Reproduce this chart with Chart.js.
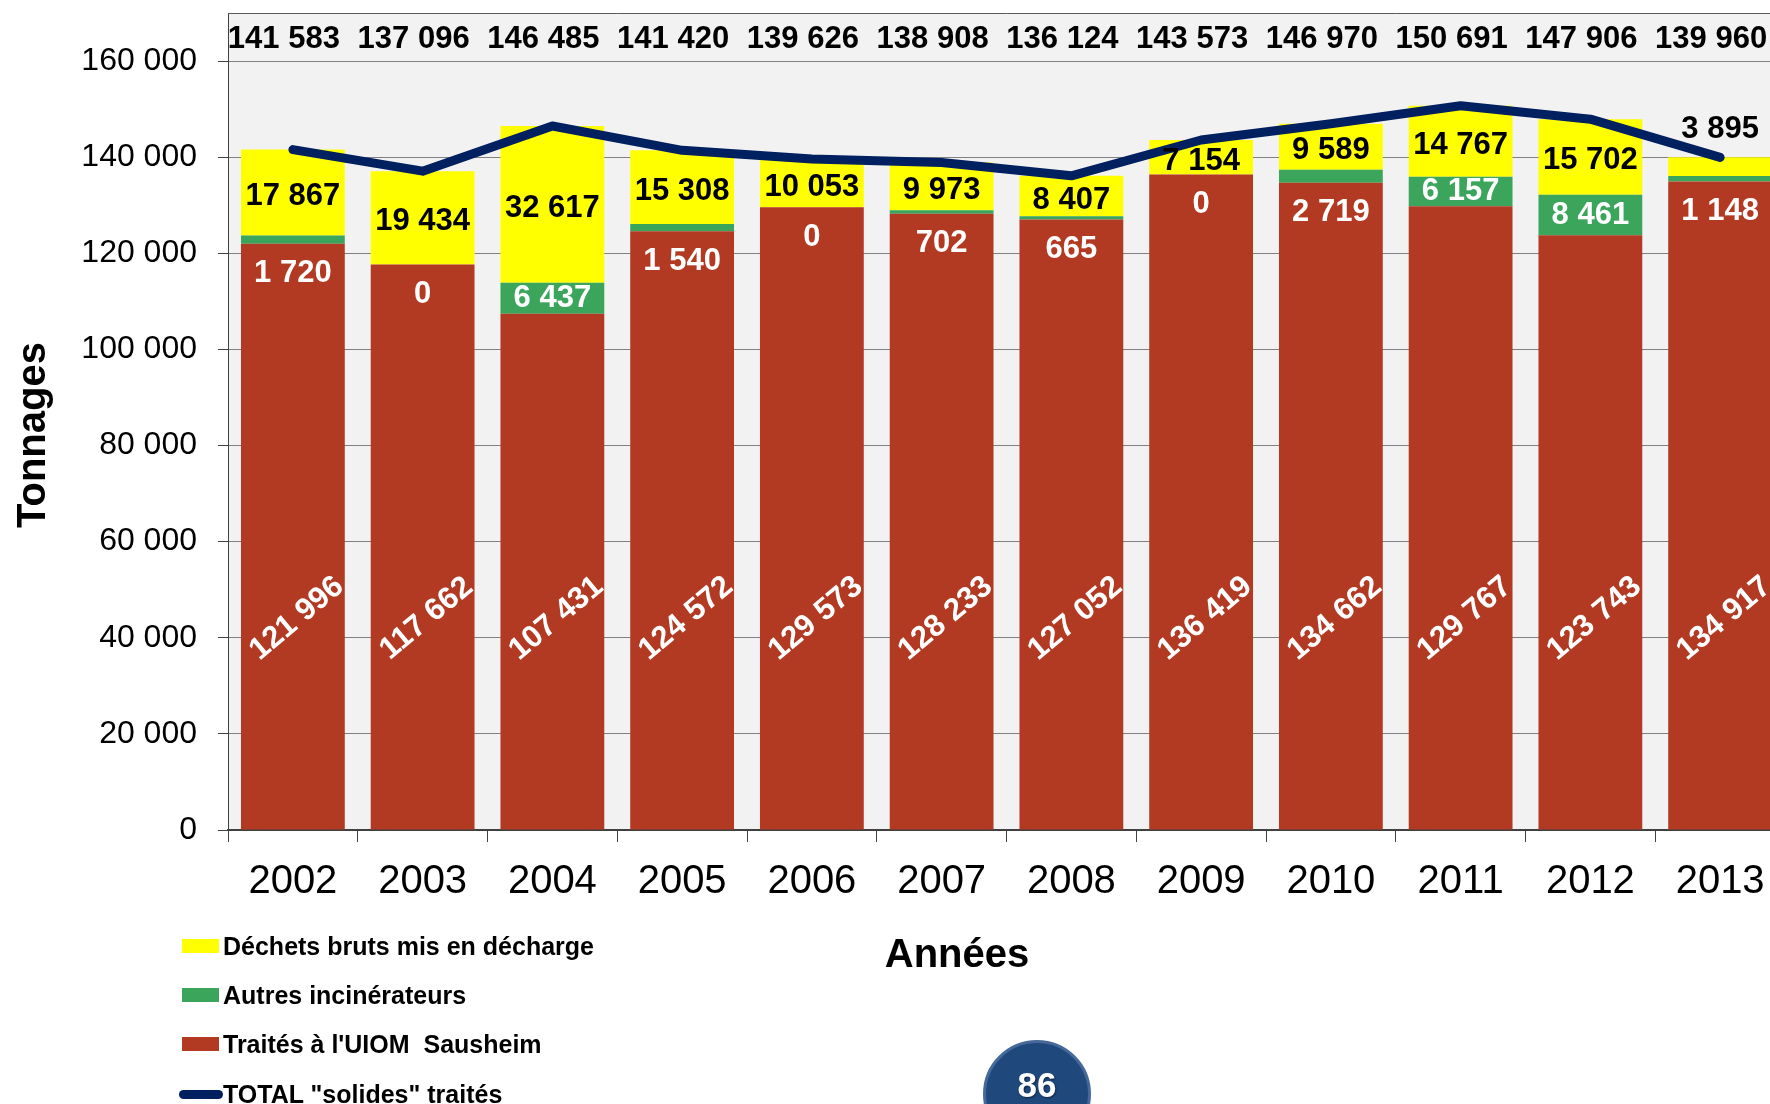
<!DOCTYPE html>
<html lang="fr">
<head>
<meta charset="utf-8">
<title>Tonnages traités 2002-2013</title>
<script src="https://cdn.jsdelivr.net/npm/chart.js@4.4.1/dist/chart.umd.min.js"></script>
<style>
  html, body { margin: 0; padding: 0; width: 1770px; height: 1104px; overflow: hidden; background: #fff; }
  body { position: relative; font-family: "Liberation Sans", Arial, sans-serif; }
  #chart { position: absolute; left: 0; top: 0; }
  #legend { position: absolute; left: 0; top: 931px; width: 700px; }
  #legend .item { position: absolute; left: 0; height: 30px; line-height: 30px; padding-left: 223px;
    font-weight: bold; font-size: 25px; color: #000; white-space: pre; }
  #legend .swatch { position: absolute; left: 182px; top: 8px; width: 37px; height: 14px; }
  #legend .swatch.line { left: 179px; top: 11px; width: 44px; height: 9px; border-radius: 5px; }
  #badge { position: absolute; left: 983px; top: 1040px; width: 108px; height: 108px; box-sizing: border-box;
    border-radius: 50%; background: #1f497d; border: 3px solid #46699a; }
  #badge span { position: absolute; left: 0; right: 0; top: 22px; line-height: 40px; text-align: center;
    font-weight: bold; font-size: 35px; color: #fff; text-shadow: 1px 1px 2px rgba(0,0,0,0.5); }
</style>
</head>
<body>
<canvas id="chart" width="1785" height="1104"></canvas>
<div id="legend"></div>
<div id="badge"><span>86</span></div>
<script>
// tonnages par année
const years = ['2002', '2003', '2004', '2005', '2006', '2007', '2008', '2009', '2010', '2011', '2012', '2013'];
const uiomSausheim = [121996, 117662, 107431, 124572, 129573, 128233, 127052, 136419, 134662, 129767, 123743, 134917];
const autresIncinerateurs = [1720, 0, 6437, 1540, 0, 702, 665, 0, 2719, 6157, 8461, 1148];
const dechetsBruts = [17867, 19434, 32617, 15308, 10053, 9973, 8407, 7154, 9589, 14767, 15702, 3895];
const totalSolides = [141583, 137096, 146485, 141420, 139626, 138908, 136124, 143573, 146970, 150691, 147906, 139960];
const yTickValues = [0, 20000, 40000, 60000, 80000, 100000, 120000, 140000, 160000];

const RED = '#b23a23';
const GREEN = '#3ba55c';
const YELLOW = '#ffff00';
const NAVY = '#002060';
const FONT = '"Liberation Sans", Arial, sans-serif';

Chart.defaults.font.family = FONT;

const fmt = v => String(v).replace(/\B(?=(\d{3})+(?!\d))/g, ' ');

// grey plot background + top frame line
const plotFrame = {
  id: 'plotFrame',
  beforeDraw(chart) {
    const { ctx, chartArea: a } = chart;
    ctx.save();
    ctx.fillStyle = '#f2f2f2';
    ctx.fillRect(a.left, a.top, a.right - a.left, a.bottom - a.top);
    ctx.restore();
  },
  beforeDatasetsDraw(chart) {
    const { ctx, chartArea: a } = chart;
    ctx.save();
    ctx.strokeStyle = '#595959';
    ctx.lineWidth = 1;
    ctx.beginPath();
    ctx.moveTo(a.left, a.top + 0.5);
    ctx.lineTo(a.right, a.top + 0.5);
    ctx.stroke();
    ctx.restore();
  }
};

// value labels on the bars, totals along the top, axis titles
const valueLabels = {
  id: 'valueLabels',
  afterDatasetsDraw(chart) {
    const { ctx, chartArea: a, scales: { y } } = chart;
    const red = chart.getDatasetMeta(0).data;
    const green = chart.getDatasetMeta(1).data;
    const yellow = chart.getDatasetMeta(2).data;
    ctx.save();
    ctx.font = 'bold 31px ' + FONT;
    ctx.textAlign = 'center';
    ctx.textBaseline = 'middle';

    years.forEach((yr, i) => {
      const cx = red[i].x;

      // totals
      ctx.fillStyle = '#000';
      ctx.fillText(fmt(totalSolides[i]), cx - 9, a.top + 26);

      // déchets bruts
      const yb = yellow[i];
      const yh = yb.base - yb.y;
      const yy = yh > 25 ? (yb.y + yb.base) / 2 + 4 : yb.y - 28;
      ctx.fillText(fmt(dechetsBruts[i]), cx, yy);

      // autres incinérateurs
      const gb = green[i];
      const gh = gb.base - gb.y;
      const gy = gh > 25 ? (gb.y + gb.base) / 2 : red[i].y + 30;
      ctx.fillStyle = '#fff';
      ctx.fillText(fmt(autresIncinerateurs[i]), cx, gy);

      // UIOM Sausheim, rotated
      ctx.save();
      ctx.translate(cx + 4, y.getPixelForValue(44000));
      ctx.rotate(-40 * Math.PI / 180);
      ctx.fillText(fmt(uiomSausheim[i]), 0, 0);
      ctx.restore();
    });

    // axis titles
    ctx.fillStyle = '#000';
    ctx.font = 'bold 40px ' + FONT;
    ctx.textBaseline = 'alphabetic';
    ctx.fillText('Années', 957, 967);
    ctx.save();
    ctx.translate(45, 435);
    ctx.rotate(-Math.PI / 2);
    ctx.fillText('Tonnages', 0, 0);
    ctx.restore();
    ctx.restore();
  }
};

const chart = new Chart(document.getElementById('chart'), {
  type: 'bar',
  data: {
    labels: years,
    datasets: [
      { label: "Traités à l'UIOM  Sausheim", data: uiomSausheim, backgroundColor: RED, order: 1 },
      { label: 'Autres incinérateurs', data: autresIncinerateurs, backgroundColor: GREEN, order: 1 },
      { label: 'Déchets bruts mis en décharge', data: dechetsBruts, backgroundColor: YELLOW, order: 1 },
      {
        type: 'line',
        label: 'TOTAL "solides" traités',
        data: totalSolides,
        stack: 'total',
        order: 0,
        borderColor: NAVY,
        backgroundColor: NAVY,
        borderWidth: 9,
        borderCapStyle: 'round',
        borderJoinStyle: 'round',
        pointRadius: 0,
        tension: 0,
        fill: false
      }
    ]
  },
  options: {
    responsive: false,
    animation: false,
    layout: { padding: { top: 13, left: 0, right: 0, bottom: 0 } },
    datasets: { bar: { categoryPercentage: 0.8, barPercentage: 1 } },
    plugins: { legend: { display: false }, tooltip: { enabled: false } },
    scales: {
      x: {
        stacked: true,
        grid: { drawOnChartArea: false, drawTicks: true, tickLength: 12, color: '#404040', offset: true },
        border: { display: true, color: '#404040', width: 2 },
        ticks: { padding: 16, color: '#000', font: { size: 40 }, maxRotation: 0, autoSkip: false },
        afterFit(s) { s.height = 274; s.paddingLeft = 0; s.paddingRight = 0; }
      },
      y: {
        stacked: true,
        min: 0,
        max: 170000,
        bounds: 'data',
        grid: { color: '#808080', lineWidth: 1, drawTicks: true, tickLength: 10, tickColor: '#404040' },
        border: { display: true, color: '#404040', width: 1 },
        ticks: { padding: 21, color: '#000', font: { size: 32 }, callback: v => fmt(v) },
        afterBuildTicks(s) { s.ticks = yTickValues.map(v => ({ value: v })); },
        afterFit(s) { s.width = 228; s.paddingTop = 0; s.paddingBottom = 0; }
      }
    }
  },
  plugins: [plotFrame, valueLabels]
});

// legend rows: landfill, other incinerators, Sausheim, total line
const legendOrder = [2, 1, 0, 3];
const legendBox = document.getElementById('legend');
legendOrder.forEach((idx, row) => {
  const ds = chart.data.datasets[idx];
  const item = document.createElement('div');
  item.className = 'item';
  item.style.top = (row * 49.2) + 'px';
  const sw = document.createElement('span');
  sw.className = ds.type === 'line' ? 'swatch line' : 'swatch';
  sw.style.background = ds.type === 'line' ? ds.borderColor : ds.backgroundColor;
  item.appendChild(sw);
  item.appendChild(document.createTextNode(ds.label));
  legendBox.appendChild(item);
});
</script>
</body>
</html>
